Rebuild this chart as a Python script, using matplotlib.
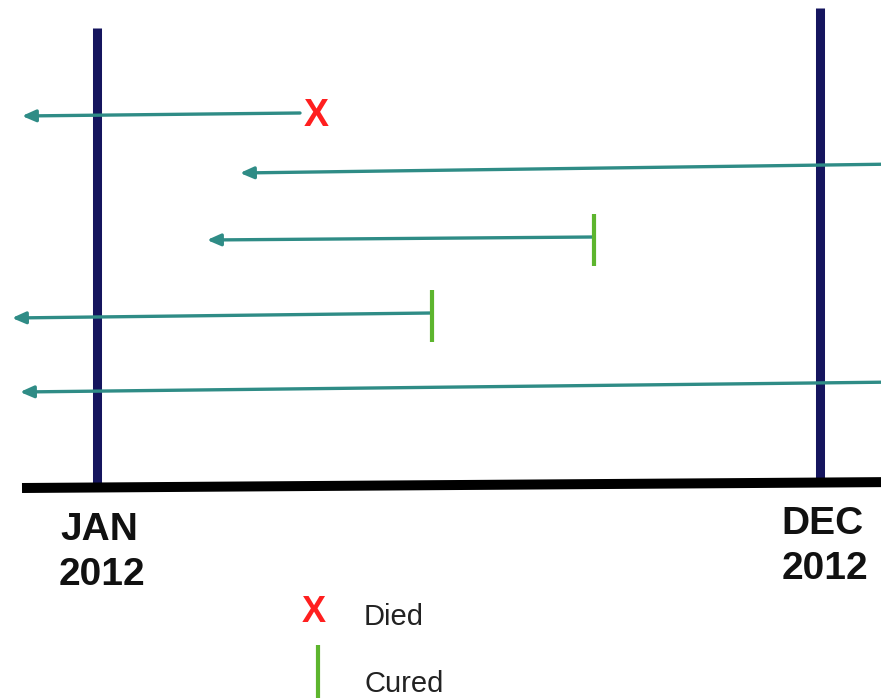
import matplotlib
matplotlib.use("Agg")
import matplotlib.pyplot as plt

plt.rcParams['font.family'] = ['Liberation Sans', 'DejaVu Sans']

# Horizontal follow-up lines (x in image units, y from top; slight scan skew)
y_left = [116, 173, 240, 318, 392]
y_right = [113, 164, 237, 313, 382]
arrow_left = [22, 240, 207, 12, 20]
line_right = [300, 900, 594, 432, 900]
outcome = ["died", "ongoing", "cured", "cured", "ongoing"]

# Reference time points
time_month = ["JAN", "DEC"]
time_year = ["2012", "2012"]
time_x = [99, 822]
time_top = [28, 8]

legend_labels = ["Died", "Cured"]

NAVY = "#15155e"
TEAL = "#2f8c86"
GREEN = "#5db52e"
RED = "#ff1f1f"

fig = plt.figure(figsize=(8.81, 6.98), dpi=100)
ax = fig.add_axes([0, 0, 1, 1])
ax.set_xlim(0, 881)
ax.set_ylim(698, 0)
ax.axis("off")

# vertical reference lines
for x, top in zip([97, 820], time_top):
    ax.plot([x, x], [top, 486], color=NAVY, lw=6.5, solid_capstyle="butt", zorder=2)

# baseline
ax.plot([22, 900], [488, 482], color="black", lw=7.2, solid_capstyle="butt", zorder=3)

# arrows
for yl, yr, xl, xr, oc in zip(y_left, y_right, arrow_left, line_right, outcome):
    ax.annotate("", xy=(xl, yl), xytext=(xr, yr),
                arrowprops=dict(arrowstyle="-|>,head_length=0.8,head_width=0.35",
                                color=TEAL, lw=2.4, shrinkA=0, shrinkB=0),
                zorder=4, annotation_clip=False)
    if oc == "died":
        ax.text(xr + 16, yr + 3, "X", color=RED, fontsize=27, fontweight="bold",
                ha="center", va="center", zorder=5)
    elif oc == "cured":
        ax.plot([xr, xr], [yr - 23, yr + 29], color=GREEN, lw=3, solid_capstyle="butt", zorder=5)

# time labels
for m, yr_, x, dy in zip(time_month, time_year, time_x, [0, -6]):
    ax.text(x, 530 + dy, m, fontsize=28, fontweight="bold", ha="center", va="center",
            color="#111111")
    ax.text(x + 3, 575 + dy, yr_, fontsize=28, fontweight="bold", ha="center", va="center",
            color="#111111")

# legend
ax.text(314, 613, "X", color=RED, fontsize=26, fontweight="bold", ha="center", va="center")
ax.text(364, 617, legend_labels[0], fontsize=21, ha="left", va="center", color="#222222")
ax.plot([318, 318], [645, 698], color=GREEN, lw=3, solid_capstyle="butt")
ax.text(364, 684, legend_labels[1], fontsize=21, ha="left", va="center", color="#222222")

fig.savefig("out.png", dpi=100, facecolor="white")
